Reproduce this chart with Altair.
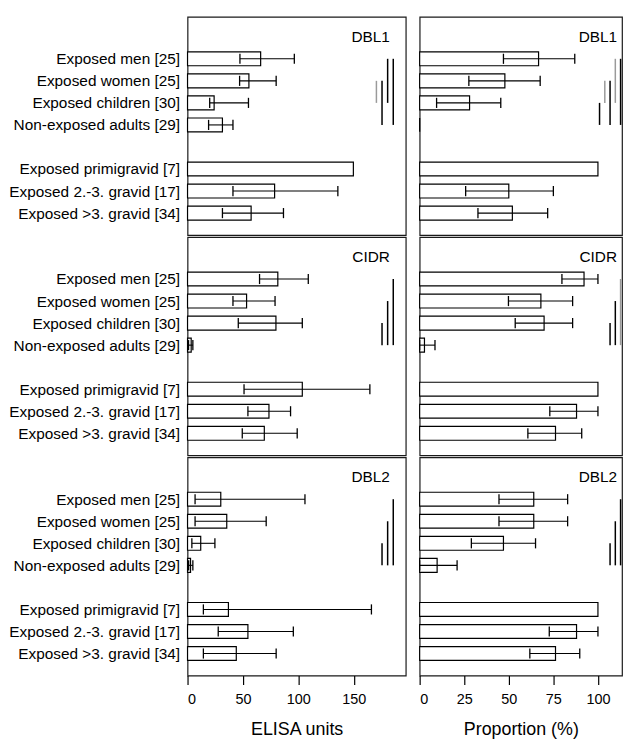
import json
import altair as alt
import pandas as pd

FONT = "Liberation Sans"

groups = [
    "Exposed men [25]",
    "Exposed women [25]",
    "Exposed children [30]",
    "Non-exposed adults [29]",
    "Exposed primigravid [7]",
    "Exposed 2.-3. gravid [17]",
    "Exposed >3. gravid [34]",
]
antigens = ["DBL1", "CIDR", "DBL2"]

# ELISA units: median with lower / upper error limits
elisa_value = {
    "DBL1": [66, 55.4, 24, 31.5, 149.7, 78.6, 57.4],
    "CIDR": [81.5, 53.3, 79.8, 3.3, 103.6, 73.5, 69.3],
    "DBL2": [30, 35.4, 11.9, 2.7, 36.9, 54.5, 44],
}
elisa_low = {
    "DBL1": [47.3, 47, 20, 19, None, 41, 31.5],
    "CIDR": [65, 41, 45.8, 0.9, 51, 54.5, 49.4],
    "DBL2": [6.8, 6.8, 3.9, 1, 14.3, 27.7, 14.3],
}
elisa_high = {
    "DBL1": [96.4, 80, 55, 41, None, 135.7, 86.6],
    "CIDR": [109, 79, 103.6, 4.8, 164.6, 93, 99],
    "DBL2": [106, 71, 24.7, 4.8, 166, 95.5, 80],
}

# Proportion (%) with lower / upper error limits
prop_value = {
    "DBL1": [66.7, 47.8, 28, 0, 100, 50, 52],
    "CIDR": [92.2, 68, 69.8, 2.7, 100, 88, 76.2],
    "DBL2": [64, 64, 47, 9.8, 100, 88, 76.2],
}
prop_low = {
    "DBL1": [47, 27.6, 9.5, None, None, 25.8, 32.7],
    "CIDR": [79.8, 49.8, 53.6, 0, None, 73, 60.7],
    "DBL2": [44.5, 44.5, 29, 0, None, 72.7, 61.8],
}
prop_high = {
    "DBL1": [87, 67.6, 45.5, None, None, 75, 71.8],
    "CIDR": [100, 85.8, 85.8, 8.6, None, 100, 90.9],
    "DBL2": [83, 83, 65, 21, None, 100, 89.8],
}

# significance brackets: (from group, to group, level, kind)
sig_lines = {
    ("DBL1", "ELISA"): [(1, 2, 0, "trend"), (1, 3, 1, "sig"), (0, 2, 2, "sig"), (0, 3, 3, "sig")],
    ("DBL1", "Prop"): [(2, 3, 0, "sig"), (1, 2, 1, "trend"), (1, 3, 2, "sig"), (0, 2, 3, "trend"), (0, 3, 4, "sig")],
    ("CIDR", "ELISA"): [(2, 3, 1, "sig"), (1, 3, 2, "sig"), (0, 3, 3, "sig")],
    ("CIDR", "Prop"): [(2, 3, 2, "sig"), (1, 3, 3, "sig"), (0, 3, 4, "trend")],
    ("DBL2", "ELISA"): [(2, 3, 1, "sig"), (1, 3, 2, "sig"), (0, 3, 3, "sig")],
    ("DBL2", "Prop"): [(2, 3, 2, "sig"), (1, 3, 3, "sig"), (0, 3, 4, "sig")],
}

rows = []
for a in antigens:
    for i, g in enumerate(groups):
        rows.append(dict(antigen=a, measure="ELISA", idx=i, group=g,
                         value=elisa_value[a][i], low=elisa_low[a][i], high=elisa_high[a][i]))
        rows.append(dict(antigen=a, measure="Prop", idx=i, group=g,
                         value=prop_value[a][i], low=prop_low[a][i], high=prop_high[a][i]))
df = pd.DataFrame(rows)

labels_by_slot = groups[:4] + [""] + groups[4:]
label_expr = "[" + ",".join(json.dumps(s) for s in labels_by_slot) + "][datum.value]"

ROW_H = 220
CFG = {
    "ELISA": dict(domain=[0, 197], width=220, ticks=[0, 50, 100, 150], title="ELISA units",
                  sig_base=170.5, sig_step=5.07, text_x=204),
    "Prop": dict(domain=[0, 113.5], width=204, ticks=[0, 25, 50, 75, 100], title="Proportion (%)",
                 sig_base=100.9, sig_step=2.95, text_x=199),
}

SLOT = "datum.idx + (datum.idx >= 4 ? 1 : 0)"


def panel(antigen, measure, first_col, last_row):
    cfg = CFG[measure]
    d = df[(df.antigen == antigen) & (df.measure == measure)]
    xs = alt.Scale(domain=cfg["domain"], nice=False, zero=True)
    ys = alt.Scale(domain=[-1.9, 8], reverse=True, nice=False, zero=False)
    if last_row:
        xaxis = alt.Axis(values=cfg["ticks"], tickSize=9, labelPadding=8, titlePadding=15,
                         grid=False, domain=False, labelFontSize=14.5, titleFontSize=18,
                         titleFontWeight="normal", tickColor="black", tickWidth=1.2,
                         labelColor="black", titleColor="black")
    else:
        xaxis = None
    if first_col:
        yaxis = alt.Axis(values=[0, 1, 2, 3, 5, 6, 7], labelExpr=label_expr, ticks=False,
                         domain=False, grid=False, labelFontSize=15.5, labelPadding=8,
                         minExtent=180, maxExtent=180, title=None, labelColor="black")
    else:
        yaxis = None

    def X(f):
        return alt.X(f + ":Q", scale=xs, axis=xaxis, title=cfg["title"])

    def Y(f):
        return alt.Y(f + ":Q", scale=ys, axis=yaxis, title=None)

    base = alt.Chart(d).transform_calculate(slot=SLOT, zero="0").transform_calculate(
        b0="datum.slot - 0.315", b1="datum.slot + 0.315",
        c0="datum.slot - 0.23", c1="datum.slot + 0.23")

    bars = base.mark_bar(fill="white", stroke="black", strokeWidth=1.2).encode(
        x=X("zero"), x2="value:Q", y=Y("b0"), y2="b1:Q")

    eb = base.transform_filter("isValid(datum.low) && datum.low !== null")
    err = eb.mark_rule(color="black", strokeWidth=1.1).encode(x=X("low"), x2="high:Q", y=Y("slot"))
    capl = eb.mark_rule(color="black", strokeWidth=1.3).encode(x=X("low"), y=Y("c0"), y2="c1:Q")
    caph = eb.mark_rule(color="black", strokeWidth=1.3).encode(x=X("high"), y=Y("c0"), y2="c1:Q")

    sd = pd.DataFrame(sig_lines[(antigen, measure)], columns=["frm", "to", "level", "kind"])
    sig = alt.Chart(sd).transform_calculate(
        xpos=f"{cfg['sig_base']} + datum.level * {cfg['sig_step']}",
        y0="datum.frm + (datum.frm >= 4 ? 1 : 0)",
        y1="datum.to + (datum.to >= 4 ? 1 : 0)",
    ).mark_rule(strokeWidth=1.5).encode(
        x=X("xpos"), y=Y("y0"), y2="y1:Q",
        color=alt.Color("kind:N", scale=alt.Scale(domain=["sig", "trend"], range=["black", "#9a9a9a"]),
                        legend=None))

    txt = alt.Chart(pd.DataFrame({"t": [antigen]})).mark_text(
        align="right", baseline="middle", fontSize=15.5, font=FONT, color="black"
    ).encode(x=alt.value(cfg["text_x"]), y=alt.value(20), text="t:N")

    return alt.layer(bars, err, capl, caph, sig, txt).properties(width=cfg["width"], height=ROW_H)


row_charts = []
for k, a in enumerate(antigens):
    last = k == len(antigens) - 1
    row_charts.append(alt.hconcat(panel(a, "ELISA", True, last), panel(a, "Prop", False, last), spacing=11))

chart = alt.vconcat(*row_charts, spacing=0).properties(
    padding={"left": 0, "top": 5, "right": 0, "bottom": 0},
    background="white",
).configure_view(stroke="#1a1a1a", strokeWidth=1.2).configure_axis(
    labelFont=FONT, titleFont=FONT
).configure_text(font=FONT)

chart.save("out.html", embed_options={"renderer": "svg", "actions": False})
